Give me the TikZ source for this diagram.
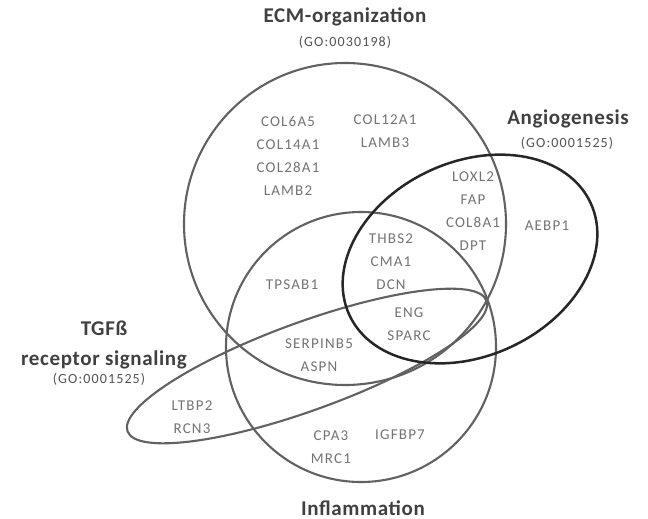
\documentclass[tikz,border=0pt]{standalone}
\usepackage{fontspec}
\setmainfont{Carlito}
\newfontfamily\genefont[LetterSpace=8]{Carlito}
\newfontfamily\gofont[LetterSpace=8]{Carlito}
\newfontfamily\titlefont[LetterSpace=3]{Carlito}

\tikzset{
  gene/.style={text=black!55,align=center,inner sep=0pt,
    font=\genefont\fontsize{15}{23}\selectfont},
  title/.style={text=black!75,inner sep=0pt,anchor=base,
    font=\titlefont\bfseries\fontsize{21}{25}\selectfont},
  goid/.style={text=black!68,inner sep=0pt,anchor=base,
    font=\gofont\fontsize{14}{16}\selectfont},
  set/.style={draw=black!62,line width=2.1pt},
  angio/.style={draw=black!85,line width=2.5pt},
}

\begin{document}
\begin{tikzpicture}[x=1pt,y=-1pt]
          \useasboundingbox (0,0) rectangle (648,519);
          % the four sets
          \draw[set] (345,224) circle (161);
          \draw[set] (361,347) circle (135);
          \draw[set,rotate around={20:(307,366)}] (307,366) ellipse [x radius=191,y radius=44];
          \draw[angio,rotate around={25:(470,259)}] (470,259) ellipse [x radius=133,y radius=97];
          % set names
          \node[title] (ecmT) at (345,23) {ECM-organization};
          \node[goid] (ecmG) at (345,47) {(GO:0030198)};
          \node[title] (angT) at (568,124) {Angiogenesis};
          \node[goid] (angG) at (567,147) {(GO:0001525)};
          \node[title] (tgfT) at (104,335) {TGFß};
          \node[title] (tgfR) at (104,365) {receptor signaling};
          \node[goid] (tgfG) at (99,383) {(GO:0001525)};
          \node[title] (infT) at (363,515) {Inflammation};
          % genes
          \node[gene] (ecm1) at (288,156) {COL6A5\\COL14A1\\COL28A1\\LAMB2};
          \node[gene] (ecm2) at (385,131) {COL12A1\\LAMB3};
          \node[gene] (ecmA) at (473,211) {LOXL2\\FAP\\COL8A1\\DPT};
          \node[gene] (ang) at (547,226) {AEBP1};
          \node[gene] (ecmAI) at (391,262) {THBS2\\CMA1\\DCN};
          \node[gene] (all) at (409,324) {ENG\\SPARC};
          \node[gene] (ecmI) at (292,285) {TPSAB1};
          \node[gene] (ecmIT) at (319,355) {SERPINB5\\ASPN};
          \node[gene] (tgf) at (192,417) {LTBP2\\RCN3};
          \node[gene] (inf1) at (331,447) {CPA3\\MRC1};
          \node[gene] (inf2) at (400,435) {IGFBP7};
        \end{tikzpicture}
\end{document}
